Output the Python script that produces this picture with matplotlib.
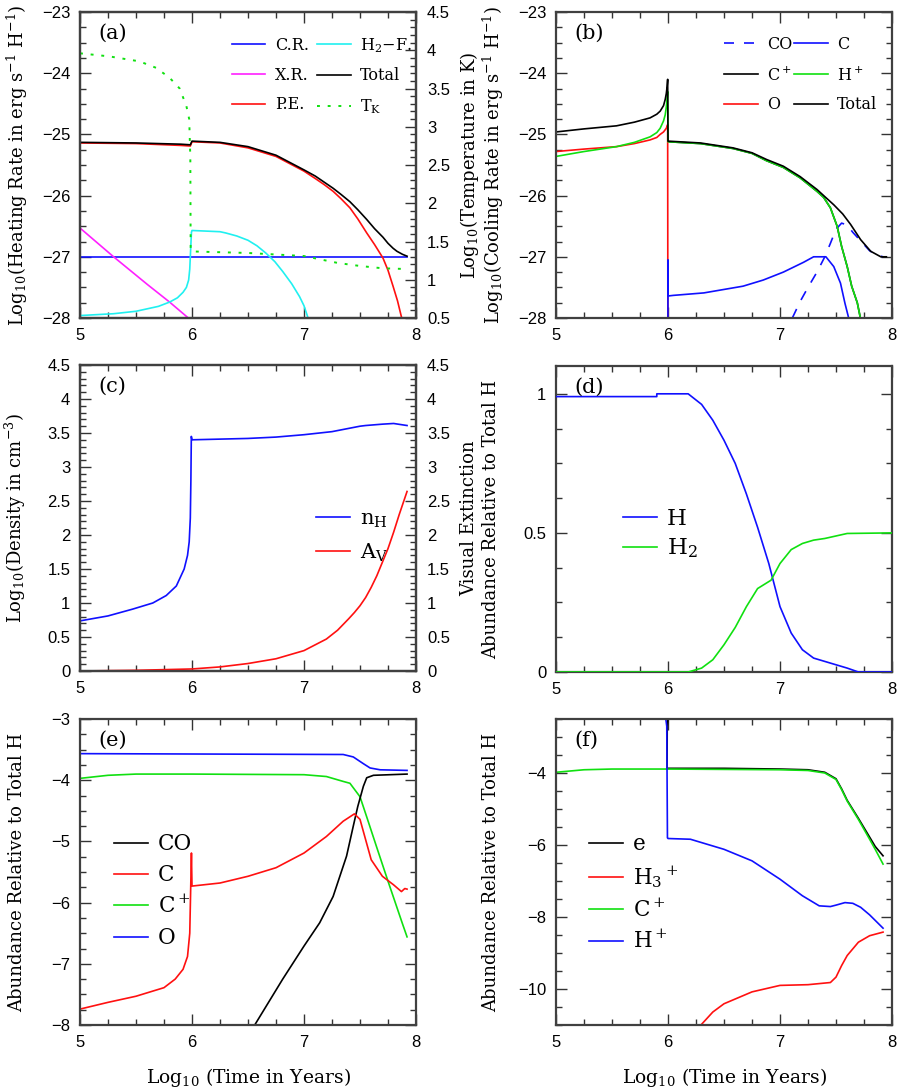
import numpy as np
import matplotlib.pyplot as plt
from matplotlib.ticker import MultipleLocator, FuncFormatter

# 字体设置
plt.rcParams['font.family'] = ['DejaVu Serif']
plt.rcParams['mathtext.fontset'] = 'dejavuserif'
plt.rcParams['mathtext.default'] = 'regular'

BLUE = '#1010ff'
RED = '#ff1010'
GREEN = '#10e010'
CYAN = '#20f0f0'
MAGENTA = '#ff20ff'

# ---------------- (a) heating ----------------
cr_x = [5.0, 7.92]
cr_y = [-27.0, -27.0]
xr_x = [5.0, 5.3, 5.6, 5.8, 5.98]
xr_y = [-26.53, -27.0, -27.45, -27.74, -28.02]
h2f_x = [5.0, 5.3, 5.5, 5.7, 5.8, 5.87, 5.92, 5.95, 5.97, 5.98, 5.99, 5.995, 6.0, 6.25, 6.3,
         6.4, 6.5, 6.58, 6.66, 6.74, 6.81, 6.89, 6.96, 7.0, 7.04]
h2f_y = [-27.96, -27.93, -27.89, -27.81, -27.74, -27.67, -27.58, -27.5, -27.38, -27.2, -26.8,
         -26.6, -26.57, -26.59, -26.61, -26.66, -26.73, -26.82, -26.94, -27.08, -27.24, -27.44,
         -27.65, -27.8, -28.02]
pe_x = [5.0, 5.5, 5.9, 5.985, 6.0, 6.25, 6.5, 6.75, 7.0, 7.1, 7.18, 7.26, 7.33, 7.41, 7.48,
        7.56, 7.63, 7.705, 7.75, 7.795, 7.835, 7.875]
pe_y = [-25.14, -25.15, -25.18, -25.19, -25.12, -25.14, -25.22, -25.36, -25.6, -25.72,
        -25.82, -25.93, -26.05, -26.2, -26.38, -26.61, -26.8, -27.02, -27.22, -27.48, -27.72,
        -28.02]
tot_a_x = [5.0, 5.5, 5.9, 5.985, 6.0, 6.25, 6.5, 6.75, 7.0, 7.1, 7.18, 7.26, 7.33, 7.41,
           7.48, 7.56, 7.63, 7.705, 7.75, 7.795, 7.83, 7.88, 7.92]
tot_a_y = [-25.13, -25.14, -25.16, -25.17, -25.11, -25.13, -25.2, -25.34, -25.58, -25.68,
           -25.78, -25.88, -25.98, -26.1, -26.23, -26.39, -26.54, -26.68, -26.78, -26.86,
           -26.91, -26.96, -26.99]
tk_x = [5.0, 5.26, 5.53, 5.68, 5.8, 5.89, 5.95, 5.975, 5.985, 5.988, 6.0, 6.5, 7.0, 7.1,
        7.3, 7.5, 7.7, 7.92]
tk_y = [3.96, 3.92, 3.855, 3.77, 3.64, 3.5, 3.27, 3.1, 2.6, 1.4, 1.37, 1.35, 1.31, 1.28,
        1.22, 1.18, 1.15, 1.14]

# ---------------- (b) cooling ----------------
tot_b_x = [5.0, 5.25, 5.54, 5.7, 5.84, 5.9, 5.93, 5.96, 5.975, 5.985, 5.992, 5.997, 6.0,
           6.29, 6.58, 6.75, 6.88, 7.03, 7.18, 7.33, 7.48, 7.56, 7.63, 7.72, 7.81, 7.9, 7.95]
tot_b_y = [-24.96, -24.91, -24.86, -24.8, -24.73, -24.67, -24.62, -24.53, -24.43, -24.33,
           -24.22, -24.1, -25.11, -25.14, -25.22, -25.3, -25.41, -25.52, -25.69, -25.9,
           -26.15, -26.3, -26.47, -26.72, -26.91, -27.0, -27.0]
hp_b_x = [5.0, 5.25, 5.54, 5.7, 5.84, 5.9, 5.93, 5.96, 5.975, 5.985, 5.992, 5.997, 6.0,
          6.29, 6.58, 6.75, 6.88, 7.03, 7.18, 7.33, 7.39, 7.45, 7.51, 7.55, 7.6, 7.64, 7.69,
          7.72]
hp_b_y = [-25.36, -25.28, -25.2, -25.13, -25.04, -24.97, -24.9, -24.78, -24.68, -24.55,
          -24.43, -24.3, -25.12, -25.15, -25.23, -25.31, -25.43, -25.54, -25.71, -25.93,
          -26.03, -26.2, -26.5, -26.83, -27.16, -27.48, -27.75, -28.02]
cp_b_x = [6.0, 6.29, 6.58, 6.75, 6.88, 7.03, 7.18, 7.33, 7.39, 7.45, 7.51, 7.55, 7.6, 7.64,
          7.69, 7.72]
cp_b_y = [-25.12, -25.15, -25.23, -25.31, -25.43, -25.54, -25.71, -25.93, -26.03, -26.2,
          -26.5, -26.83, -27.16, -27.48, -27.75, -28.02]
o_b_x = [5.0, 5.25, 5.54, 5.7, 5.84, 5.9, 5.93, 5.96, 5.985, 5.997, 5.999]
o_b_y = [-25.28, -25.24, -25.2, -25.15, -25.09, -25.05, -25.0, -24.96, -24.9, -24.84, -28.5]
c_b_x = [5.999, 6.0, 6.001, 6.05, 6.32, 6.67, 6.85, 7.03, 7.21, 7.3, 7.41, 7.48, 7.54,
         7.58, 7.62]
c_b_y = [-28.5, -27.05, -27.64, -27.63, -27.59, -27.48, -27.38, -27.25, -27.09, -27.0,
         -27.0, -27.16, -27.43, -27.76, -28.05]
co_b_x = [7.11, 7.18, 7.25, 7.33, 7.4, 7.45, 7.5, 7.55, 7.6, 7.65, 7.72, 7.8, 7.86, 7.92]
co_b_y = [-28.0, -27.73, -27.5, -27.25, -27.0, -26.78, -26.55, -26.45, -26.48, -26.6,
          -26.74, -26.9, -26.97, -27.0]

# ---------------- (c) density / extinction ----------------
nh_x = [5.0, 5.25, 5.47, 5.65, 5.77, 5.86, 5.93, 5.96, 5.975, 5.985, 5.99, 5.994, 6.0,
        6.25, 6.5, 6.75, 7.0, 7.25, 7.5, 7.55, 7.7, 7.8, 7.92]
nh_y = [0.737, 0.81, 0.91, 1.0, 1.11, 1.25, 1.5, 1.7, 1.9, 2.25, 2.8, 3.45, 3.4, 3.41,
        3.42, 3.44, 3.475, 3.52, 3.6, 3.61, 3.63, 3.64, 3.61]
av_x = [5.0, 5.5, 6.0, 6.25, 6.5, 6.75, 7.0, 7.2, 7.3, 7.4, 7.45, 7.5, 7.55, 7.6, 7.65,
        7.7, 7.75, 7.8, 7.85, 7.92]
av_y = [0.0, 0.01, 0.03, 0.06, 0.11, 0.18, 0.3, 0.47, 0.6, 0.77, 0.86, 0.96, 1.08, 1.23,
        1.4, 1.6, 1.8, 2.04, 2.3, 2.64]

# ---------------- (d) H / H2 ----------------
h_x = [5.0, 5.9, 5.9, 6.18, 6.3, 6.4, 6.5, 6.6, 6.7, 6.8, 6.9, 7.0, 7.1, 7.2, 7.3, 7.4,
       7.5, 7.6, 7.7, 8.0]
h_y = [0.99, 0.99, 1.0, 1.0, 0.962, 0.905, 0.833, 0.75, 0.64, 0.52, 0.39, 0.235, 0.14,
       0.08, 0.05, 0.038, 0.026, 0.014, 0.0, 0.0]
h2_x = [5.0, 6.18, 6.3, 6.4, 6.5, 6.6, 6.7, 6.8, 6.92, 7.0, 7.1, 7.2, 7.3, 7.4, 7.5, 7.6, 8.0]
h2_y = [0.0, 0.0, 0.014, 0.044, 0.098, 0.16, 0.235, 0.3, 0.33, 0.39, 0.44, 0.462, 0.474,
        0.48, 0.489, 0.498, 0.5]

# ---------------- (e) carbon / oxygen ----------------
o_e_x = [5.0, 7.35, 7.44, 7.53, 7.59, 7.68, 7.92]
o_e_y = [-3.566, -3.58, -3.62, -3.73, -3.8, -3.83, -3.84]
cp_e_x = [5.0, 5.25, 5.5, 6.0, 7.0, 7.2, 7.35, 7.41, 7.5, 7.56, 7.65, 7.75, 7.88, 7.92]
cp_e_y = [-3.97, -3.92, -3.9, -3.9, -3.91, -3.94, -4.02, -4.05, -4.27, -4.6, -5.1, -5.65,
          -6.35, -6.56]
co_e_x = [6.56, 6.81, 7.0, 7.14, 7.26, 7.38, 7.44, 7.48, 7.53, 7.56, 7.62, 7.92]
co_e_y = [-8.0, -7.25, -6.71, -6.33, -5.9, -5.24, -4.75, -4.43, -4.1, -3.96, -3.92, -3.9]
c_e_x = [5.0, 5.25, 5.5, 5.75, 5.85, 5.92, 5.96, 5.98, 5.99, 5.995, 6.0, 6.25, 6.5, 6.75,
         7.0, 7.2, 7.35, 7.45, 7.5, 7.55, 7.6, 7.7, 7.8, 7.87, 7.9, 7.92]
c_e_y = [-7.74, -7.63, -7.53, -7.39, -7.25, -7.09, -6.88, -6.5, -5.62, -5.19, -5.73, -5.68,
         -5.57, -5.43, -5.19, -4.92, -4.67, -4.55, -4.64, -4.97, -5.3, -5.57, -5.71, -5.82,
         -5.77, -5.78]

# ---------------- (f) ions ----------------
hp_f_x = [5.972, 5.989, 5.995, 6.0, 6.2, 6.5, 6.75, 7.0, 7.2, 7.35, 7.45, 7.5, 7.58, 7.65,
          7.72, 7.8, 7.92]
hp_f_y = [-2.3, -2.7, -5.8, -5.82, -5.84, -6.12, -6.44, -6.95, -7.41, -7.69, -7.71, -7.67,
          -7.6, -7.62, -7.73, -7.94, -8.31]
e_f_x = [6.004, 5.993, 5.992, 6.0, 6.5, 7.0, 7.25, 7.4, 7.5, 7.55, 7.6, 7.7, 7.8, 7.85, 7.92]
e_f_y = [-2.3, -2.7, -3.87, -3.87, -3.87, -3.89, -3.91, -3.98, -4.16, -4.44, -4.76, -5.26,
         -5.78, -6.04, -6.3]
cp_f_x = [5.0, 5.25, 5.5, 6.0, 7.0, 7.25, 7.4, 7.5, 7.55, 7.6, 7.7, 7.8, 7.85, 7.92]
cp_f_y = [-3.98, -3.91, -3.89, -3.89, -3.91, -3.93, -4.0, -4.18, -4.46, -4.78, -5.29, -5.84,
          -6.12, -6.53]
h3p_x = [6.3, 6.4, 6.5, 6.75, 7.0, 7.25, 7.45, 7.5, 7.55, 7.6, 7.7, 7.8, 7.92]
h3p_y = [-10.98, -10.64, -10.41, -10.08, -9.9, -9.88, -9.82, -9.67, -9.35, -9.07, -8.7,
         -8.52, -8.42]

LW = 1.2
W, H = 898, 1090
TICKFMT = FuncFormatter(lambda v, p: ('%g' % v).replace('-', '\u2212'))


def rect(px, py):
    return [px / W, 1 - (py + 306) / H, 336 / W, 306 / H]


def spines(ax):
    for s in ax.spines.values():
        s.set_linewidth(1.6)
        s.set_color('#404040')


def style(ax, ylim, major, minor, right=True):
    ax.set_xlim(5, 8)
    ax.set_ylim(*ylim)
    ax.xaxis.set_major_locator(MultipleLocator(1))
    ax.xaxis.set_minor_locator(MultipleLocator(0.25))
    ax.yaxis.set_major_locator(MultipleLocator(major))
    ax.yaxis.set_minor_locator(MultipleLocator(minor))
    ax.xaxis.set_major_formatter(TICKFMT)
    ax.yaxis.set_major_formatter(TICKFMT)
    ax.tick_params(which='both', direction='in', top=True, right=right,
                   labelfontfamily='Liberation Sans', labelsize=12, pad=7, color='#333333')
    ax.tick_params(which='major', length=8, width=1)
    ax.tick_params(which='minor', length=4.5, width=1)
    spines(ax)


def twin(ax, ylim):
    t = ax.twinx()
    t.set_ylim(*ylim)
    t.yaxis.set_major_locator(MultipleLocator(0.5))
    t.yaxis.set_minor_locator(MultipleLocator(0.1))
    t.yaxis.set_major_formatter(TICKFMT)
    t.tick_params(which='both', direction='in', labelfontfamily='Liberation Sans',
                  labelsize=12, pad=8, color='#333333')
    t.tick_params(which='major', length=8, width=1)
    t.tick_params(which='minor', length=4.5, width=1)
    spines(t)
    return t


def tag(ax, s):
    ax.text(0.055, 0.93, s, transform=ax.transAxes, fontsize=15, va='center', ha='left')


def big_legend(ax, hs, labels, x, y, fs, spacing):
    ax.legend(hs, labels, loc='upper left', bbox_to_anchor=(x, y), frameon=False,
              fontsize=fs, handlelength=34 / (fs * 1.389), handletextpad=10 / (fs * 1.389),
              labelspacing=spacing, borderpad=0, borderaxespad=0)


fig = plt.figure(figsize=(W / 100, H / 100), dpi=100)

# (a)
ax = fig.add_axes(rect(80, 12))
style(ax, (-28, -23), 1, 0.25, right=False)
l1, = ax.plot(cr_x, cr_y, color=BLUE, lw=LW, label='C.R.')
l2, = ax.plot(xr_x, xr_y, color=MAGENTA, lw=LW, label='X.R.')
l3, = ax.plot(pe_x, pe_y, color=RED, lw=LW, label='P.E.')
l4, = ax.plot(h2f_x, h2f_y, color=CYAN, lw=LW, label='H$_2$$-$F.')
l5, = ax.plot(tot_a_x, tot_a_y, color='black', lw=LW, label='Total')
ta = twin(ax, (0.5, 4.5))
l6, = ta.plot(tk_x, tk_y, color=GREEN, lw=1.4, ls=(0, (1.5, 4)), label='T$_K$')
hs = [l1, l2, l3, l4, l5, l6]
ax.legend(hs, [h.get_label() for h in hs], ncol=2, loc='upper left',
          bbox_to_anchor=(0.452, 0.922), frameon=False, fontsize=11.5, handlelength=2.1,
          handletextpad=0.6, columnspacing=0.5, labelspacing=0.8, borderpad=0,
          borderaxespad=0)
ax.set_ylabel('Log$_{10}$(Heating Rate in erg s$^{-1}$ H$^{-1}$)', fontsize=13)
ax.yaxis.set_label_coords(-0.15, 0.5)
ta.set_ylabel('Log$_{10}$(Temperature in K)', fontsize=13)
ta.yaxis.set_label_coords(1.125, 0.5)
tag(ax, '(a)')

# (b)
ax = fig.add_axes(rect(556, 12))
style(ax, (-28, -23), 1, 0.25)
b1, = ax.plot(co_b_x, co_b_y, color=BLUE, lw=LW, ls=(0, (6, 6)), label='CO')
b2, = ax.plot(cp_b_x, cp_b_y, color='black', lw=LW, label='C$^+$')
b3, = ax.plot(o_b_x, o_b_y, color=RED, lw=LW, label='O')
b4, = ax.plot(c_b_x, c_b_y, color=BLUE, lw=LW, label='C')
b5, = ax.plot(hp_b_x, hp_b_y, color=GREEN, lw=LW, label='H$^+$')
b6, = ax.plot(tot_b_x, tot_b_y, color='black', lw=LW, label='Total')
hs = [b1, b2, b3, b4, b5, b6]
ax.legend(hs, [h.get_label() for h in hs], ncol=2, loc='upper left',
          bbox_to_anchor=(0.5, 0.922), frameon=False, fontsize=11.5, handlelength=2.1,
          handletextpad=0.6, columnspacing=0.1, labelspacing=0.8, borderpad=0,
          borderaxespad=0)
ax.set_ylabel('Log$_{10}$(Cooling Rate in erg s$^{-1}$ H$^{-1}$)', fontsize=13)
ax.yaxis.set_label_coords(-0.15, 0.5)
tag(ax, '(b)')

# (c)
ax = fig.add_axes(rect(80, 365))
style(ax, (0, 4.5), 0.5, 0.1, right=False)
c1, = ax.plot(nh_x, nh_y, color=BLUE, lw=LW)
tc = twin(ax, (0, 4.5))
c2, = tc.plot(av_x, av_y, color=RED, lw=LW)
big_legend(ax, [c1, c2], ['n$_{\\rm H}$', 'A$_{\\rm V}$'], 0.702, 0.527, 15, 0.55)
ax.set_ylabel('Log$_{10}$(Density in cm$^{-3}$)', fontsize=13)
ax.yaxis.set_label_coords(-0.155, 0.5)
tc.set_ylabel('Visual Extinction', fontsize=13)
tc.yaxis.set_label_coords(1.13, 0.5)
tag(ax, '(c)')

# (d)
ax = fig.add_axes(rect(556, 366))
style(ax, (0, 1.1), 0.5, 0.125)
d1, = ax.plot(h_x, h_y, color=BLUE, lw=LW, zorder=3)
d2, = ax.plot(h2_x, h2_y, color=GREEN, lw=LW, zorder=3)
big_legend(ax, [d1, d2], ['H', 'H$_2$'], 0.2, 0.535, 16.5, 0.28)
ax.set_ylabel('Abundance Relative to Total H', fontsize=13)
ax.yaxis.set_label_coords(-0.165, 0.5)
tag(ax, '(d)')

# (e)
ax = fig.add_axes(rect(80, 719))
style(ax, (-8, -3), 1, 0.25)
e4, = ax.plot(o_e_x, o_e_y, color=BLUE, lw=LW)
e3, = ax.plot(cp_e_x, cp_e_y, color=GREEN, lw=LW)
e1, = ax.plot(co_e_x, co_e_y, color='black', lw=LW)
e2, = ax.plot(c_e_x, c_e_y, color=RED, lw=LW)
big_legend(ax, [e1, e2, e3, e4], ['CO', 'C', 'C$^+$', 'O'], 0.101, 0.627, 15.5, 0.43)
ax.set_ylabel('Abundance Relative to Total H', fontsize=13)
ax.yaxis.set_label_coords(-0.16, 0.5)
ax.set_xlabel('Log$_{10}$ (Time in Years)', fontsize=13.5)
ax.xaxis.set_label_coords(0.5, -0.135)
tag(ax, '(e)')

# (f)
ax = fig.add_axes(rect(556, 719))
style(ax, (-11, -2.5), 2, 0.5)
f1, = ax.plot(e_f_x, e_f_y, color='black', lw=LW)
f3, = ax.plot(cp_f_x, cp_f_y, color=GREEN, lw=LW)
f4, = ax.plot(hp_f_x, hp_f_y, color=BLUE, lw=LW)
f2, = ax.plot(h3p_x, h3p_y, color=RED, lw=LW)
big_legend(ax, [f1, f2, f3, f4], ['e', 'H$_3$$^+$', 'C$^+$', 'H$^+$'], 0.098, 0.627, 15.5, 0.43)
ax.set_ylabel('Abundance Relative to Total H', fontsize=13)
ax.yaxis.set_label_coords(-0.165, 0.5)
ax.set_xlabel('Log$_{10}$ (Time in Years)', fontsize=13.5)
ax.xaxis.set_label_coords(0.5, -0.135)
tag(ax, '(f)')

fig.savefig('out.png', dpi=100)
